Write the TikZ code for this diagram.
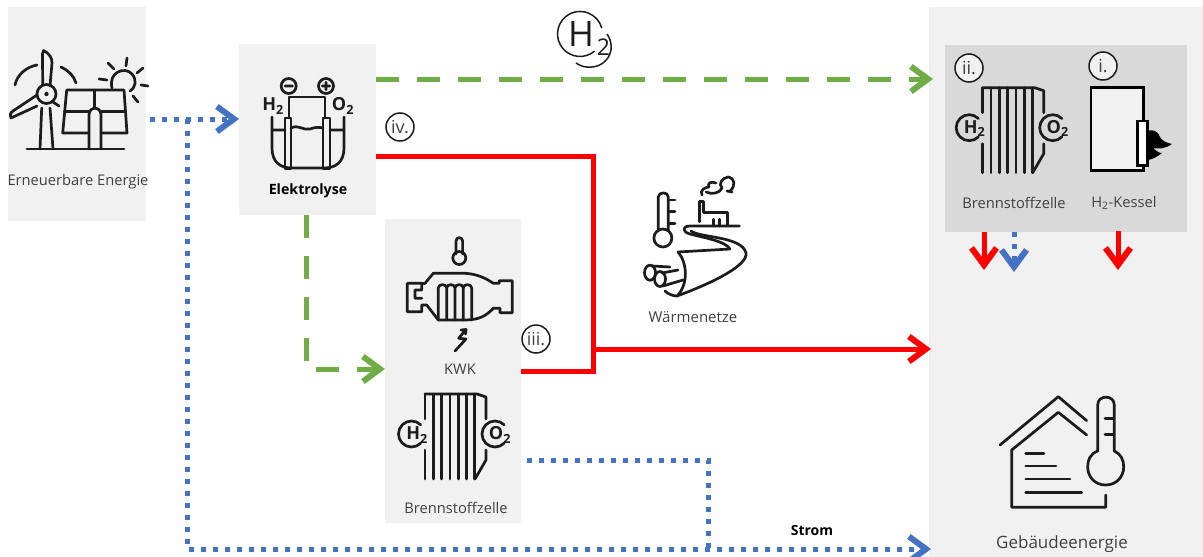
\documentclass[tikz,border=0pt]{standalone}
\usepackage{fontspec}
\setmainfont{Open Sans}
\usetikzlibrary{arrows.meta}
\definecolor{panelgray}{HTML}{F1F1F1}
\definecolor{innergray}{HTML}{D9D9D9}
\definecolor{labelgray}{HTML}{404040}
\definecolor{hgreen}{HTML}{70AD47}
\definecolor{sblue}{HTML}{4472C4}
\definecolor{iconblack}{HTML}{1C1C1C}
\tikzset{
    panel/.style={fill=panelgray, inner sep=0pt, outer sep=0pt},
    lbl/.style={font=\fontsize{14.7}{16}\selectfont, text=labelgray, inner sep=0pt},
    badge/.style={circle, draw=iconblack, line width=1.5pt, fill=white, minimum size=28pt, inner sep=0pt, font=\fontsize{18}{18}\selectfont, text=labelgray},
    icon/.style={draw=iconblack, line width=2.7pt, line cap=round, line join=round},
    chem/.style={font=\fontsize{18}{18}\selectfont\bfseries, text=iconblack, inner sep=0pt},
    tip/.style={-{Straight Barb[length=17pt,width=25pt,line width=6pt]}},
    gas/.style={hgreen, line width=5pt, dash pattern=on 23pt off 18pt, tip},
    heat/.style={red, line width=5pt, line join=miter},
    power/.style={sblue, line width=5pt, dash pattern=on 5pt off 7pt},
}
% one fuel cell stack, origin at the top of its first plate
\newcommand{\fuelstack}[3]{
    \begin{scope}[shift={(#1,#2)}]
        \draw[icon] (0,0) -- (0,25) (0,56) -- (0,85);
        \foreach \px in {8.3,16.6,...,50} {
            \draw[icon] (\px,0) -- (\px,85);
        }
        \draw[icon] (0,0) -- (52,0) -- (61,3) -- (61,25) (61,56) -- (61,66) -- (50,85);
        \draw[icon] (-4.3,30.8) arc[start angle=-45, end angle=-315, radius=13];
        \draw[icon] (79.2,30.8) arc[start angle=-45, end angle=-315, radius=13];
        \node[chem] (#3h) at (-8,41) {H\textsubscript{2}};
        \node[chem] (#3o) at (75,41) {O\textsubscript{2}};
    \end{scope}
}
\begin{document}
\begin{tikzpicture}[x=1pt, y=-1pt]
    \useasboundingbox (0,0) rectangle (1203,557);

    % Background panels
    \node[panel, anchor=north west, minimum width=138pt, minimum height=214pt] (renew) at (8,7) {};
    \node[panel, anchor=north west, minimum width=137pt, minimum height=171pt] (elektro) at (239,44) {};
    \node[panel, anchor=north west, minimum width=136pt, minimum height=304pt] (kwk) at (385,219) {};
    \node[panel, anchor=north west, minimum width=274pt, minimum height=550pt] (building) at (929,7) {};
    \node[panel, fill=innergray, anchor=north west, minimum width=242pt, minimum height=187pt] (devices) at (945,45) {};

    % Free ends and corners of the connectors
    \coordinate (renewout) at (150,119);
    \coordinate (elektroin) at (239,119);
    \coordinate (branch) at (187,119);
    \coordinate (stromfoot) at (187,549);
    \coordinate (stromend) at (931,549);
    \coordinate (gasout) at (376,79);
    \coordinate (gasend) at (933,79);
    \coordinate (gasdown) at (306,215);
    \coordinate (gaselbow) at (306,369);
    \coordinate (gaskwk) at (385,369);
    \coordinate (heatout) at (376,156);
    \coordinate (heatcorner) at (593,156);
    \coordinate (heatjoin) at (593,349);
    \coordinate (heatend) at (931,349);
    \coordinate (kwkout) at (521,371);
    \coordinate (kwkcorner) at (593,371);
    \coordinate (cellout) at (527,460);
    \coordinate (cellcorner) at (708,460);
    \coordinate (cellfoot) at (708,549);

    % Electricity
    \draw[power, tip] (renewout) -- (elektroin);
    \draw[power, tip] (branch) -- (stromfoot) -- (stromend);
    \draw[power] (cellout) -- (cellcorner) -- (cellfoot);

    % Hydrogen
    \draw[gas] (gasout) -- (gasend);
    \draw[gas] (gasdown) -- (gaselbow) -- (gaskwk);

    % Heat
    \draw[heat] (heatout) -- (heatcorner) -- (heatjoin);
    \draw[heat] (kwkout) -- (kwkcorner) -- (heatjoin);
    \draw[heat, tip] (heatjoin) -- (heatend);

    % Short arrows below the devices
    \coordinate (cellheat) at (984,232);
    \coordinate (cellheatend) at (984,270);
    \coordinate (cellpower) at (1014,232);
    \coordinate (cellpowerend) at (1014,272);
    \coordinate (boilerheat) at (1118,231);
    \coordinate (boilerheatend) at (1118,270);
    \draw[heat, tip] (cellheat) -- (cellheatend);
    \draw[power, tip] (cellpower) -- (cellpowerend);
    \draw[heat, tip] (boilerheat) -- (boilerheatend);

    % Wind turbine
    \draw[icon] (42.7,85) -- (42.5,54) -- (43.5,50.5) .. controls (50,54) and (52,58) .. (52,63) -- (50,86);
    \draw[icon] (37,95) -- (13,111) .. controls (10,113) and (9.5,116) .. (11,118) -- (37,106);
    \draw[icon] (46.5,94) circle (9.5);
    \fill[iconblack] (46.5,94) circle (2.2);
    \draw[icon] (53,102) -- (59,106);
    \draw[icon] (41.7,108) -- (40,149) (50,108) -- (53,149);
    \draw[icon] (15,85) .. controls (17,75) and (26,67) .. (37,65);
    \draw[icon] (61,67) .. controls (68,70) and (74,76) .. (76,83);

    % Solar panel and sun
    \draw[icon] (66.7,90) -- (124,90) -- (127,133) -- (62.7,133) -- cycle;
    \draw[icon] (64.5,111.7) -- (125.5,111.7);
    \draw[icon] (94.7,90) -- (94.7,107);
    \draw[icon, fill=panelgray] (89,149) -- (89,115) .. controls (89,106) and (101,106) .. (101,115) -- (101,149);
    \draw[icon] (27,149) -- (124,149);
    \draw[icon] (112,88) .. controls (108,72) and (125,66) .. (132,74) .. controls (137,80) and (136,87) .. (130,91);
    \draw[icon] (99,79) -- (107,80) (108,63) -- (114,69) (127,58) -- (126,66) (143,68) -- (137,73) (148,86) -- (141,85) (138,102) -- (133,96);

    % Electrolysis cell
    \draw[icon] (272,117) -- (272,148) .. controls (272,162) and (280,168) .. (292,168) -- (324,168) .. controls (336,168) and (344,162) .. (344,148) -- (344,117);
    \draw[icon] (272,130) -- (285,130) (291,128) .. controls (298,124) and (304,131) .. (310,129) .. controls (316,127) and (318,127) .. (323,128) (330,130) -- (344,130);
    \draw[icon] (285,118) rectangle (291,169);
    \draw[icon] (323,118) rectangle (330,169);
    \draw[icon] (289,118) -- (289,97) -- (325,97) -- (325,118);
    \draw[icon] (288.7,86) circle (7.5) (285,86) -- (292.4,86);
    \draw[icon] (326,86) circle (7.5) (322.3,86) -- (329.7,86) (326,82.3) -- (326,89.7);
    \node[chem] (elh) at (273,106) {H\textsubscript{2}};
    \node[chem] (elo) at (343,106) {O\textsubscript{2}};

    % Engine with thermometer and bolt
    \draw[icon] (456,254) -- (456,241) .. controls (456,236.5) and (462.6,236.5) .. (462.6,241) -- (462.6,254);
    \draw[icon] (459.3,258) circle (6.5);
    \draw[icon] (425,283.3) -- (433.3,273.3) -- (465,273.3) .. controls (478,274) and (487,279) .. (493.3,283.3) -- (499.3,283.3) -- (499.3,280.7) -- (512.3,280.7) -- (512.3,312.7) -- (500,312.7) -- (500,308.3) -- (493.3,308.3) .. controls (487,315) and (480,320) .. (465,320) -- (438.3,320) -- (426.7,305) -- (421.7,305) -- (421.7,311.7) -- (407.3,311.7) -- (407.3,283.3) -- (421.7,283.3) -- (421.7,290) -- (415,290) -- (415,298.3) -- (421.7,298.3);
    \draw[icon] (421.7,283.3) -- (425,283.3);
    \draw[icon] (438.3,320) -- (438.3,288) .. controls (438.3,283.5) and (446.7,283.5) .. (446.7,288) -- (446.7,320) (446.7,288) .. controls (446.7,283.5) and (455,283.5) .. (455,288) -- (455,320) (455,288) .. controls (455,283.5) and (463.3,283.5) .. (463.3,288) -- (463.3,320) (463.3,288) .. controls (463.3,283.5) and (471.7,283.5) .. (471.7,288) -- (471.7,320);
    \draw[icon] (461,330) -- (466,329.5) -- (465.5,334) (466,329.5) -- (458.7,338.3) -- (466,339) -- (455,351);

    % Fuel cell stacks
    \fuelstack{425}{394}{kwkcell}
    \fuelstack{982.7}{87.7}{roomcell}

    % Boiler
    \draw[draw=black, fill=panelgray, line width=2.6pt] (1091,87.3) rectangle (1143.3,170.7);
    \fill[black] (1147,131) .. controls (1153,129) and (1158,131) .. (1160,137) .. controls (1162,141) and (1167,143) .. (1172,144) .. controls (1165,149) and (1158,149) .. (1153,148) .. controls (1157,152) and (1160,153) .. (1162,153) .. controls (1157,157) and (1151,160) .. (1147,160) -- cycle;
    \draw[draw=black, fill=white, line width=2.6pt] (1137.3,121) rectangle (1147.3,165.7);

    % District heating
    \draw[icon] (658.3,231) -- (658.3,197) .. controls (658.3,191.5) and (668.3,191.5) .. (668.3,197) -- (668.3,231);
    \draw[icon] (662.9,238) circle (9);
    \draw[icon] (668.3,200) -- (675,200) (668.3,211.7) -- (675,211.7) (668.3,223.3) -- (675,223.3);
    \draw[icon] (699.3,221.7) -- (699.3,201.7) -- (703.3,201.7) -- (703.3,212.7) -- (727.3,212.7) -- (727.3,226) -- (739.3,226);
    \draw[icon] (713.3,219.3) -- (713.3,226) (719.3,219.3) -- (719.3,226);
    \draw[icon] (739.3,226) -- (690,226) .. controls (682,226) and (682,232) .. (690,234) .. controls (705,238) and (725,241) .. (730,249);
    \draw[icon] (691,231) .. controls (700,238) and (742,236) .. (746,253) .. controls (748,265) and (715,282) .. (677,296);
    \draw[icon] (678,252) -- (730,249);
    \draw[icon] (678,252) .. controls (687,262) and (689,284) .. (677,296) .. controls (673,296) and (668,294) .. (665,291);
    \draw[icon] (652,266) -- (670,267) (662,273) -- (678,270) (663,286) -- (683,280);
    \draw[icon] (650,272.7) ellipse (5.5 and 7.5);
    \draw[icon] (660,279) ellipse (5.5 and 7.5);
    \draw[icon] (702,195) .. controls (699,190) and (706,187) .. (709,187) .. controls (707,183) and (711,181) .. (716,183);
    \draw[icon] (706,192) .. controls (712,195) and (720,193) .. (722,188) .. controls (718,184) and (722,178) .. (728,177) .. controls (735,178) and (736,186) .. (730,191) (727,191) -- (732,192);

    % Building
    \draw[icon] (1000,445) -- (1058.3,396.7) -- (1086.7,420.7);
    \draw[icon] (1086.7,435) -- (1058.3,412.3) -- (1011.7,450) -- (1011.7,507.3) -- (1105.7,507.3) -- (1105.7,495);
    \draw[icon] (1025.7,453.3) -- (1044,453.3) (1025.7,466) -- (1056,466) (1025.7,479) -- (1070,479) (1025.7,492.3) -- (1081.7,492.3);
    \draw[icon] (1097.7,451) -- (1097.7,405) .. controls (1097.7,394.5) and (1114.3,394.5) .. (1114.3,405) -- (1114.3,451);
    \draw[icon] (1097.7,451) .. controls (1090,454) and (1087.7,460) .. (1087.7,467) .. controls (1087.7,477) and (1095,485) .. (1105.7,485) .. controls (1116,485) and (1123.7,477) .. (1123.7,467) .. controls (1123.7,460) and (1121,454) .. (1114.3,451);
    \draw[icon] (1105,418.3) -- (1113,418.3) (1105,434.3) -- (1113,434.3);

    % Hydrogen symbol
    \draw[iconblack, line width=1.5pt] (594.5,51.2) arc[start angle=50, end angle=345, radius=22.5];
    \draw[iconblack, line width=1.5pt] (607,34) .. controls (618,50) and (606,69) .. (587,67) .. controls (583,67) and (579,65) .. (576,63);
    \node[font=\fontsize{35}{36}\selectfont, text=iconblack, inner sep=0pt] (hsym) at (589,39) {H\kern3pt\raisebox{-9pt}{\fontsize{23}{23}\selectfont 2}};

    % Numbered marks
    \node[badge] (markiv) at (400,127) {iv.};
    \node[badge] (markiii) at (536,339) {iii.};
    \node[badge, fill=panelgray] (markii) at (969,68) {ii.};
    \node[badge, fill=panelgray] (marki) at (1103,66) {i.};

    % Labels
    \node[lbl] (renewlabel) at (78,182) {Erneuerbare Energie};
    \node[lbl, text=black, font=\fontsize{14.2}{16}\selectfont\bfseries] (elektrolabel) at (308,191) {Elektrolyse};
    \node[lbl] (kwklabel) at (460,369) {KWK};
    \node[lbl] (celllabel) at (456,508) {Brennstoffzelle};
    \node[lbl, font=\fontsize{15}{16}\selectfont] (netzlabel) at (693,317) {Wärmenetze};
    \node[lbl, text=black, font=\fontsize{14}{16}\selectfont\bfseries] (stromlabel) at (812,530) {Strom};
    \node[lbl] (roomlabel) at (1014,203) {Brennstoffzelle};
    \node[lbl] (kessellabel) at (1124,203) {H\textsubscript{2}-Kessel};
    \node[lbl, font=\fontsize{17}{18}\selectfont] (gebaeudelabel) at (1062,544) {Gebäudeenergie};
\end{tikzpicture}
\end{document}
